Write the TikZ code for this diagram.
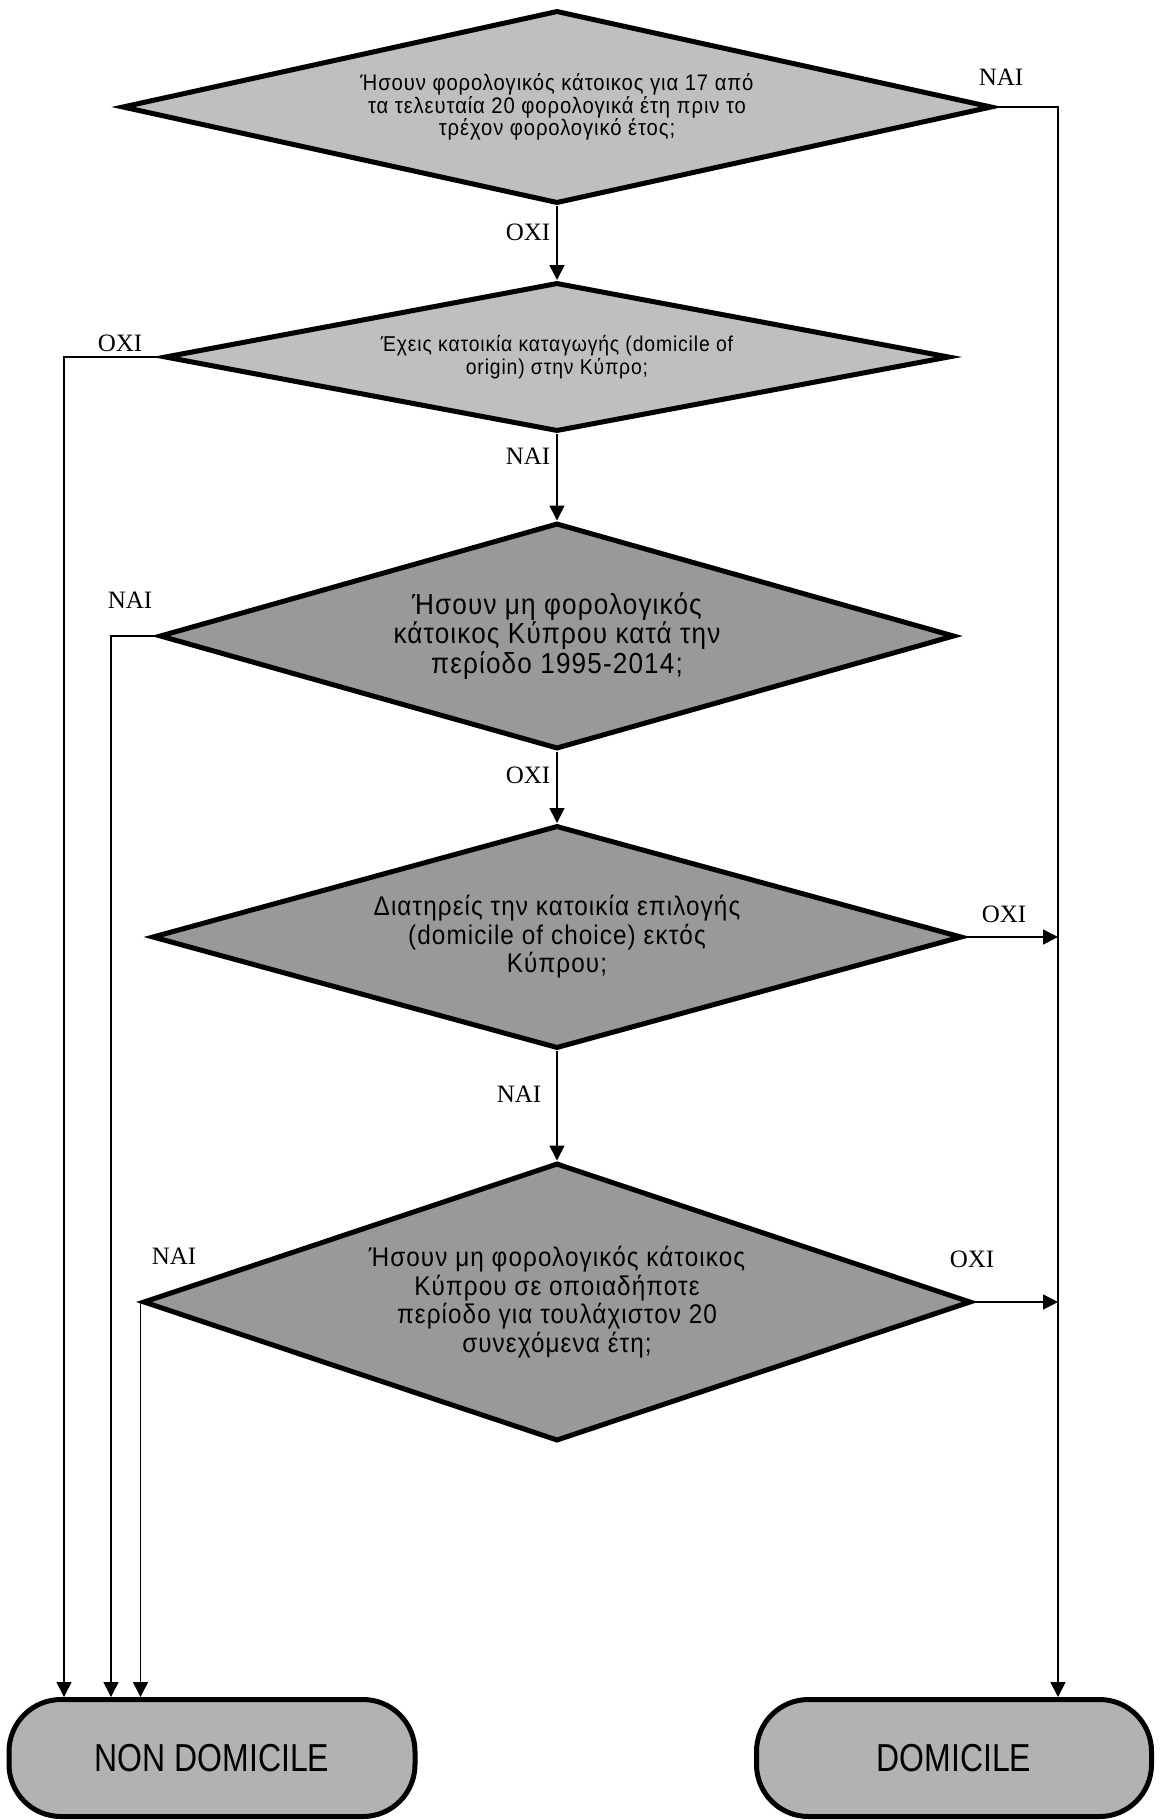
\documentclass[tikz,border=0pt]{standalone}
\usepackage{fontspec}
\setmainfont{Liberation Serif}
\newfontfamily\qfont[FakeStretch=0.9,LetterSpace=4]{Liberation Sans}
\newfontfamily\tfont[FakeStretch=0.82]{Liberation Sans}
\usepackage{tikz}
\usetikzlibrary{shapes.geometric, arrows.meta, positioning}

\tikzset{
  decision/.style={diamond, draw=black, line width=5pt, fill=black!25, inner sep=0pt, align=center},
  darkdecision/.style={decision, fill=black!40},
  terminal/.style={rectangle, rounded corners=52pt, draw=black, line width=5pt, fill=black!30,
    minimum height=117pt, font=\tfont\fontsize{39}{40}\selectfont},
  ans/.style={font=\fontsize{25}{27}\selectfont},
  flow/.style={line width=1.5pt, -{Triangle[length=15pt,width=15pt]}},
}

\begin{document}
\begin{tikzpicture}[x=1pt, y=-1pt]
\useasboundingbox (0,0) rectangle (1159,1820);

% questions
\node[decision, aspect=4.5, minimum width=870pt, minimum height=193pt,
  font=\qfont\fontsize{22.5}{22.6}\selectfont] (q1) at (557,107)
  {Ήσουν φορολογικός κάτοικος για 17 από\\τα τελευταία 20 φορολογικά έτη πριν το\\τρέχον φορολογικό έτος;};
\node[decision, aspect=5.27, minimum width=785pt, minimum height=149pt,
  font=\qfont\fontsize{21.5}{23}\selectfont] (q2) at (557,357)
  {Έχεις κατοικία καταγωγής (domicile of\\origin) στην Κύπρο;};
\node[darkdecision, aspect=3.52, minimum width=795pt, minimum height=226pt,
  font=\qfont\fontsize{29}{29.6}\selectfont] (q3) at (557,636)
  {Ήσουν μη φορολογικός\\κάτοικος Κύπρου κατά την\\περίοδο 1995-2014;};
\node[darkdecision, aspect=3.63, minimum width=810pt, minimum height=223pt,
  font=\qfont\fontsize{27}{28.5}\selectfont] (q4) at (557,937)
  {Διατηρείς την κατοικία επιλογής\\(domicile of choice) εκτός\\Κύπρου;};
\node[darkdecision, aspect=2.98, minimum width=828pt, minimum height=278pt,
  font=\qfont\fontsize{27}{28.6}\selectfont] (q5) at (557,1302)
  {Ήσουν μη φορολογικός κάτοικος\\Κύπρου σε οποιαδήποτε\\περίοδο για τουλάχιστον 20\\συνεχόμενα έτη;};

% outcomes
\node[terminal, minimum width=406pt] (nondom) at (212,1758) {NON DOMICILE};
\node[terminal, minimum width=395pt] (dom) at (954,1758) {DOMICILE};

% side trunks
\coordinate (rtrunk) at (1058,0);
\coordinate (ltrunkA) at (64,0);
\coordinate (ltrunkB) at (111,0);

\draw[flow] (q1.south) -- (q2.north);
\draw[flow] (q2.south) -- (q3.north);
\draw[flow] (q3.south) -- (q4.north);
\draw[flow] (q4.south) -- (q5.north);

\draw[flow] (q1.east) -| (dom.north -| rtrunk);
\draw[flow] (q4.east) -- (q4.east -| rtrunk);
\draw[flow] (q5.east) -- (q5.east -| rtrunk);

\draw[flow] (q2.west) -| (nondom.north -| ltrunkA);
\draw[flow] (q3.west) -| (nondom.north -| ltrunkB);
\draw[flow] (q5.west) -- (q5.west |- nondom.north);

% answers
\node[ans] (yes1) at (1001,77) {ΝΑΙ};
\node[ans] (no1) at (528,232) {ΟΧΙ};
\node[ans] (no2) at (120,343) {ΟΧΙ};
\node[ans] (yes2) at (528,456) {ΝΑΙ};
\node[ans] (yes3) at (130,600) {ΝΑΙ};
\node[ans] (no3) at (528,775) {ΟΧΙ};
\node[ans] (no4) at (1004,914) {ΟΧΙ};
\node[ans] (yes4) at (519,1094) {ΝΑΙ};
\node[ans] (yes5) at (174,1256) {ΝΑΙ};
\node[ans] (no5) at (972,1259) {ΟΧΙ};
\end{tikzpicture}
\end{document}
